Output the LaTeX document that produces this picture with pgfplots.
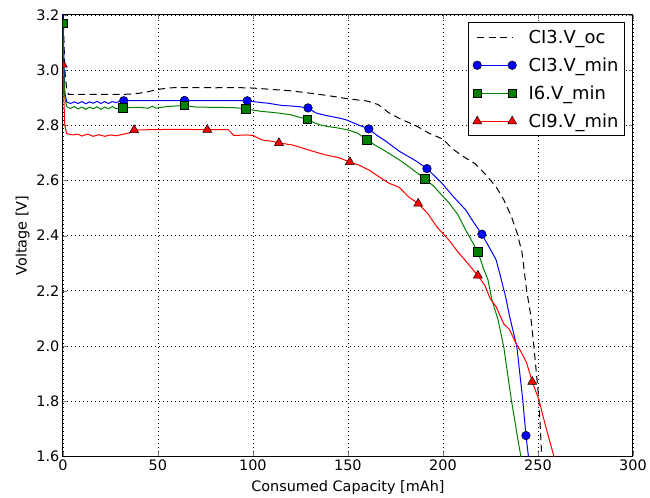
\documentclass[border=0pt]{standalone}
\usepackage{fontspec}
\setmainfont{DejaVu Sans}
\usepackage{pgfplots}
\pgfplotsset{compat=1.18}
\definecolor{mplgreen}{rgb}{0,0.5,0}

\begin{document}
\begin{tikzpicture}
\begin{axis}[
    name=ax,
    scale only axis,
    width=571bp, height=442bp,
    xmin=0, xmax=300, ymin=1.6, ymax=3.2,
    xtick={0,50,...,300},
    ytick={1.6,1.8,...,3.21},
    yticklabel style={/pgf/number format/.cd,fixed,fixed zerofill,precision=1},
    /pgf/number format/assume math mode=true,
    tick label style={font=\fontsize{14.5}{16}\selectfont},
    label style={font=\fontsize{14.5}{16}\selectfont},
    xlabel={Consumed Capacity [mAh]},
    ylabel={Voltage [V]},
    xlabel style={yshift=-3bp},
    ylabel style={yshift=0bp},
    tick align=inside,
    major tick length=4bp,
    axis line style={black, line width=1bp},
    grid=major,
    major grid style={black, line width=0.7bp, dash pattern=on 1bp off 3bp},
    clip marker paths=true,
    legend cell align=left,
    legend image code/.code={\draw[#1] plot coordinates {(0bp,0bp) (35bp,0bp)};},
    legend style={at={(0.986,0.983)}, anchor=north east, draw=black, line width=1bp,
        font=\fontsize{18}{21}\selectfont, row sep=9bp, inner xsep=4bp, inner ysep=5bp,
        /tikz/every odd column/.append style={column sep=10bp}},
]
% CI3.V_oc
\addplot[black, line width=1bp, dash pattern=on 7bp off 4.5bp, forget plot] coordinates {
(0,3.25)(1,3.0)(2,2.93)(3,2.912)(10,2.912)(20,2.912)(30,2.912)(36,2.913)(40,2.916)(45,2.922)(50,2.93)(55,2.935)(60,2.937)(70,2.937)(80,2.936)(90,2.937)(100,2.935)(110,2.93)(120,2.925)(126,2.92)(135,2.912)(142,2.905)(150,2.896)(160,2.888)(166,2.875)(171.6,2.845)(177,2.825)(182,2.81)(187,2.794)(193,2.77)(200,2.75)(205,2.715)(210,2.69)(217,2.66)(222,2.625)(228,2.577)(232,2.53)(236,2.47)(239,2.41)(241.6,2.34)(244,2.204)(246,2.12)(247.9,1.997)(250.5,1.805)(252,1.6)(253,1.5)
};
% CI3.V_min
\addplot[blue, line width=1bp, forget plot] coordinates {
(0,3.22)(0.5,3.05)(1,2.92)(2,2.885)(4,2.879)(6,2.885)(8,2.879)(10,2.886)(12,2.878)(14,2.885)(16,2.88)(18,2.887)(20,2.879)(22,2.886)(24,2.879)(26,2.886)(28,2.882)(30,2.888)(32,2.889)(40,2.889)(50,2.889)(64,2.89)(80,2.889)(97,2.889)(100,2.886)(105,2.882)(108,2.88)(115,2.872)(120,2.87)(125,2.867)(129,2.863)(133,2.845)(137,2.838)(141,2.832)(145,2.827)(149,2.82)(156,2.8)(161,2.787)(165,2.765)(170,2.742)(177,2.706)(186,2.67)(191.6,2.643)(199.5,2.59)(205,2.545)(212,2.493)(216,2.45)(220.5,2.405)(225,2.35)(228,2.312)(230,2.26)(233,2.178)(235,2.11)(238.9,1.997)(242,1.805)(243.7,1.675)(245,1.6)(246,1.55)
};
\addplot[only marks, mark=*, mark size=4.3bp, mark options={fill=blue, draw=black, line width=0.5bp}, forget plot] coordinates {
(0,3.22)(32,2.889)(64,2.89)(97,2.889)(129,2.863)(161,2.787)(191.6,2.643)(220.5,2.405)(243.7,1.675)
};
% I6.V_min
\addplot[mplgreen, line width=1bp, forget plot] coordinates {
(0,3.17)(0.5,3.0)(1,2.9)(2,2.868)(4,2.861)(6,2.868)(8,2.859)(10,2.866)(12,2.858)(14,2.866)(16,2.86)(18,2.867)(20,2.858)(22,2.866)(24,2.86)(26,2.868)(28,2.86)(30,2.863)(31.6,2.863)(35,2.864)(40,2.865)(45,2.862)(47,2.869)(49,2.862)(55,2.868)(64,2.872)(70,2.866)(80,2.865)(90,2.864)(96.3,2.86)(100,2.855)(105,2.85)(110,2.847)(115,2.843)(120,2.838)(125,2.828)(128.5,2.823)(132,2.81)(136,2.8)(140,2.795)(145,2.79)(150,2.783)(155,2.772)(160,2.747)(165,2.725)(170,2.705)(177,2.675)(183,2.645)(190.5,2.606)(195,2.58)(203,2.52)(208,2.475)(212,2.42)(218.4,2.341)(221.6,2.276)(223.7,2.24)(225.8,2.167)(229,2.095)(232,1.997)(236,1.805)(239,1.68)(241,1.6)(242,1.55)
};
\addplot[only marks, mark=square*, mark size=4.2bp, mark options={fill=mplgreen, draw=black, line width=0.5bp}, forget plot] coordinates {
(0,3.17)(31.6,2.863)(64,2.872)(96.3,2.86)(128.5,2.823)(160,2.747)(190.5,2.606)(218.4,2.341)
};
% CI9.V_min
\addplot[red, line width=1bp, forget plot] coordinates {
(0,3.02)(0.5,2.9)(1,2.8)(2,2.77)(5,2.765)(8,2.768)(10,2.761)(13,2.768)(16,2.76)(19,2.766)(22,2.76)(25,2.765)(28,2.762)(32,2.768)(35,2.772)(37.5,2.783)(45,2.784)(55,2.785)(65,2.785)(76,2.784)(87,2.784)(90,2.763)(97,2.765)(100,2.763)(104.7,2.747)(110,2.742)(113.7,2.736)(120.5,2.729)(125,2.72)(129.5,2.71)(138,2.693)(145,2.683)(151,2.667)(156,2.655)(161,2.638)(166,2.615)(171.6,2.59)(177,2.575)(182,2.54)(187,2.516)(192,2.48)(197,2.43)(203,2.385)(208,2.34)(213,2.3)(218.4,2.255)(222,2.22)(225,2.17)(228,2.142)(232,2.08)(235,2.06)(238.4,2.01)(241,1.98)(244,1.94)(247,1.87)(250.5,1.805)(254,1.71)(258.4,1.6)(260,1.56)
};
\addplot[only marks, mark=triangle*, mark size=5.2bp, mark options={fill=red, draw=black, line width=0.5bp}, forget plot] coordinates {
(0,3.02)(37.5,2.783)(76,2.784)(113.7,2.736)(151,2.667)(187,2.516)(218.4,2.255)(247,1.87)
};
\addlegendimage{black, line width=1bp, dash pattern=on 7bp off 4.5bp}
\addlegendentry{CI3.V\_oc}
\addlegendimage{blue, line width=1bp, mark=*, mark size=4.3bp, mark options={fill=blue, draw=black, line width=0.5bp}}
\addlegendentry{CI3.V\_min}
\addlegendimage{mplgreen, line width=1bp, mark=square*, mark size=4.2bp, mark options={fill=mplgreen, draw=black, line width=0.5bp}}
\addlegendentry{I6.V\_min}
\addlegendimage{red, line width=1bp, mark=triangle*, mark size=5.2bp, mark options={fill=red, draw=black, line width=0.5bp}}
\addlegendentry{CI9.V\_min}
\end{axis}
\path ([shift={(-63bp,-41bp)}]ax.south west) rectangle ([shift={(16bp,15bp)}]ax.north east);
\end{tikzpicture}
\end{document}
